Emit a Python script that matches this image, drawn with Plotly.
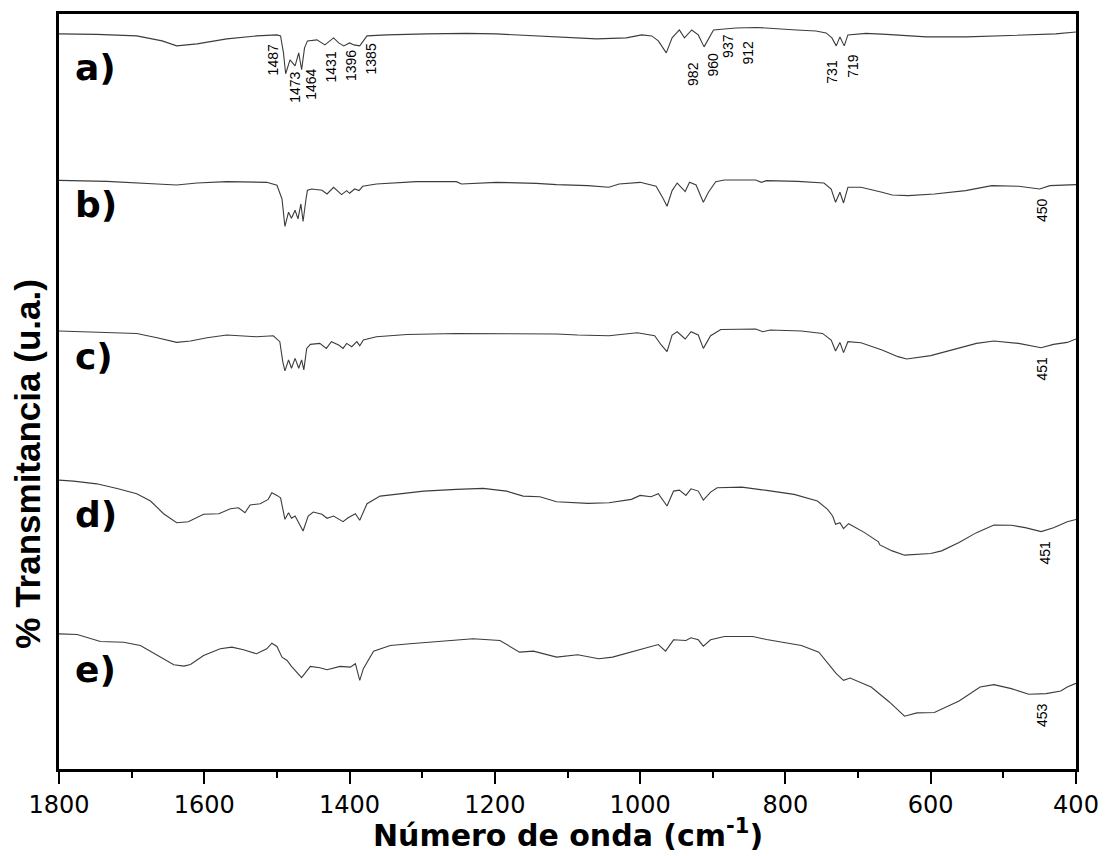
import plotly.graph_objects as go

# ---------------- data (wavenumber in cm-1, transmittance in arbitrary units) ----------------
wn_a = [1800, 1748, 1693, 1658, 1638, 1610, 1569, 1528, 1500, 1495, 1491, 1488, 1482, 1475, 1470,
        1466, 1462, 1458, 1445, 1434, 1422, 1415, 1408, 1400, 1394, 1386, 1376, 1349, 1294, 1239,
        1198, 1143, 1115, 1060, 1019, 998, 984, 975, 964, 956, 946, 939, 929, 920, 912, 899, 884,
        868, 840, 813, 785, 758, 744, 736, 730, 725, 719, 714, 689, 661, 606, 551, 510, 455, 428, 400]
t_a = [73.7, 73.65, 73.5, 73.0, 72.5, 72.7, 73.2, 73.5, 73.6, 73.5, 71.8, 69.7, 71.1, 70.5, 71.8,
       70.1, 72.3, 73.0, 73.1, 72.6, 73.3, 72.8, 72.5, 72.8, 72.6, 72.5, 73.5, 73.6, 73.7, 73.75,
       73.7, 73.5, 73.4, 73.2, 73.3, 73.6, 73.5, 73.0, 71.8, 73.3, 74.1, 73.3, 74.1, 73.6, 72.4, 74.1, 74.2,
       74.3, 74.35, 74.2, 74.1, 74.0, 73.8, 73.3, 72.5, 73.4, 72.5, 73.6, 73.75, 73.65, 73.4, 73.4, 73.5, 73.6, 73.7, 73.9]

wn_b = [1800, 1734, 1665, 1638, 1610, 1569, 1514, 1500, 1493, 1489, 1484, 1480, 1475, 1471, 1467,
        1464, 1460, 1458, 1452, 1438, 1431, 1422, 1411, 1404, 1400, 1393, 1387, 1382, 1363, 1308,
        1253, 1246, 1198, 1143, 1115, 1072, 1043, 1029, 1000, 985, 978, 968, 963, 956, 949, 938,
        932, 923, 913, 906, 896, 884, 841, 833, 826, 783, 747, 737, 731, 725, 720, 714, 696, 667,
        653, 631, 595, 552, 516, 479, 450, 436, 400]
t_b = [59.0, 58.9, 58.63, 58.53, 58.73, 58.87, 58.8, 58.5, 57.13, 54.37, 55.8, 55.2, 56.0, 55.13, 56.63,
       54.87, 57.13, 58.0, 58.13, 58.0, 57.63, 58.3, 57.57, 57.97, 57.7, 58.13, 57.97, 58.4, 58.63, 58.87,
       58.87, 58.63, 58.8, 58.7, 58.57, 58.47, 58.3, 58.63, 58.8, 58.53, 58.4, 57.13, 56.4, 57.97, 58.73, 57.87,
       58.8, 58.53, 56.8, 57.8, 58.87, 59.03, 59.03, 58.8, 58.97, 58.9, 58.73, 58.13, 56.8, 57.8, 56.73, 58.3, 58.3, 57.8,
       57.53, 57.47, 57.63, 57.97, 58.47, 58.4, 58.13, 58.47, 58.57]

wn_c = [1800, 1734, 1693, 1665, 1638, 1619, 1596, 1569, 1528, 1505, 1496, 1492, 1489, 1484, 1480,
        1475, 1470, 1466, 1463, 1459, 1454, 1441, 1432, 1425, 1415, 1409, 1404, 1397, 1390, 1386,
        1381, 1363, 1321, 1253, 1184, 1115, 1086, 1043, 1004, 980, 971, 963, 956, 949, 938, 930,
        920, 913, 903, 889, 841, 831, 821, 778, 749, 737, 731, 725, 720, 714, 696, 667, 645, 633,
        600, 571, 537, 513, 479, 448, 431, 412, 400]
t_c = [43.87, 43.7, 43.63, 43.2, 42.73, 42.87, 43.2, 43.47, 43.3, 43.4, 42.8, 40.8, 39.87, 40.97, 40.13,
       41.13, 40.13, 40.97, 39.97, 42.13, 42.53, 42.63, 42.13, 42.8, 42.47, 42.13, 42.63, 42.3, 42.8, 42.4,
       42.97, 43.3, 43.53, 43.63, 43.63, 43.57, 43.47, 43.4, 43.7, 43.4, 42.47, 41.8, 43.47, 43.8, 43.07, 43.8,
       43.47, 42.13, 43.4, 44.03, 44.07, 43.8, 43.97, 43.87, 43.63, 42.97, 41.87, 42.73, 41.7, 42.8, 42.7, 41.97, 41.3, 41.07,
       41.4, 41.97, 42.63, 42.87, 42.63, 42.2, 42.53, 42.73, 43.07]

wn_d = [1800, 1780, 1748, 1720, 1693, 1674, 1656, 1638, 1622, 1601, 1580, 1564, 1553, 1544, 1537,
        1523, 1512, 1507, 1500, 1495, 1489, 1484, 1480, 1475, 1470, 1464, 1457, 1450, 1438, 1431,
        1422, 1409, 1402, 1392, 1386, 1376, 1358, 1340, 1298, 1253, 1216, 1184, 1161, 1138, 1115,
        1072, 1043, 1012, 1000, 985, 975, 963, 954, 946, 937, 930, 920, 913, 903, 894, 860, 826,
        788, 756, 742, 735, 731, 725, 720, 713, 691, 672, 670, 653, 636, 600, 585, 561, 537, 513,
        489, 470, 448, 431, 412, 400]
t_d = [28.9, 28.8, 28.53, 28.07, 27.53, 26.8, 25.53, 24.63, 24.73, 25.47, 25.53, 26.03, 26.13, 25.63, 26.4,
       26.53, 26.97, 27.63, 27.37, 27.13, 24.97, 25.63, 25.07, 25.3, 24.63, 23.8, 25.3, 25.7, 25.47, 25.07,
       25.3, 24.73, 25.13, 25.53, 24.87, 26.53, 27.3, 27.47, 27.8, 27.97, 28.07, 27.8, 27.3, 27.23, 26.73,
       26.57, 26.63, 26.97, 27.37, 27.23, 27.53, 26.3, 27.8, 27.9, 27.37, 28.03, 27.8, 26.9, 27.7, 28.13, 28.2, 27.87,
       27.47, 26.8, 25.97, 25.3, 24.47, 24.63, 24.03, 24.53, 23.63, 22.7, 22.4, 21.8, 21.37, 21.53, 21.8, 22.63, 23.63, 24.4,
       24.37, 24.13, 23.73, 24.13, 24.73, 24.95]

wn_e = [1800, 1775, 1743, 1711, 1688, 1665, 1642, 1628, 1619, 1601, 1578, 1562, 1546, 1528, 1514,
        1507, 1500, 1493, 1486, 1480, 1466, 1454, 1441, 1431, 1413, 1399, 1392, 1386, 1381, 1367,
        1344, 1317, 1276, 1230, 1193, 1166, 1147, 1115, 1086, 1057, 1038, 1004, 975, 965, 954, 937,
        930, 920, 913, 903, 884, 845, 826, 778, 754, 730, 720, 711, 682, 657, 636, 619, 595, 561,
        532, 513, 489, 465, 441, 421, 412, 400]
t_e = [13.47, 13.4, 12.7, 12.63, 12.3, 11.3, 10.37, 10.23, 10.4, 11.3, 11.97, 12.13, 11.87, 11.47, 11.97,
       12.53, 12.2, 11.13, 10.8, 10.2, 9.07, 10.2, 10.07, 9.87, 10.2, 10.13, 10.47, 8.8, 9.97, 11.73,
       12.3, 12.47, 12.73, 12.97, 12.8, 11.63, 11.73, 11.13, 11.37, 10.97, 11.13, 11.8, 12.4, 11.73, 12.87, 12.8,
       13.07, 12.87, 12.23, 12.87, 13.2, 13.2, 12.9, 12.3, 11.63, 9.47, 8.8, 9.03, 8.13, 6.63, 5.2, 5.53, 5.57, 6.73,
       8.13, 8.37, 7.97, 7.4, 7.47, 7.73, 8.13, 8.5]

series_names = ["a)", "b)", "c)", "d)", "e)"]
series_label_y = [70.3, 56.6, 41.3, 25.5, 9.9]

# peak labels (text, wavenumber position of label, height of label centre)
peak_text = ["1487", "1473", "1464", "1431", "1396", "1385", "982", "960", "937", "912", "731", "719",
             "450", "451", "451", "453"]
peak_x = [1506, 1475, 1453, 1426, 1399, 1371, 927, 900, 879, 852, 736, 707,
          447, 447, 443, 447]
peak_y = [71.1, 68.3, 68.6, 70.4, 70.5, 71.2, 69.7, 70.6, 72.5, 71.8, 69.9, 70.5,
          56.0, 40.1, 21.6, 5.3]

x_ticks = [1800, 1600, 1400, 1200, 1000, 800, 600, 400]

# ---------------- figure ----------------
fig = go.Figure()
for wn, t in [(wn_a, t_a), (wn_b, t_b), (wn_c, t_c), (wn_d, t_d), (wn_e, t_e)]:
    fig.add_trace(go.Scatter(x=wn, y=t, mode="lines",
                             line=dict(color="#3c3c3c", width=1.1),
                             showlegend=False, hoverinfo="skip"))

for name, yy in zip(series_names, series_label_y):
    fig.add_annotation(x=1781, y=yy, xref="x", yref="y", text=name, showarrow=False,
                       xanchor="left", yanchor="middle",
                       font=dict(family="DejaVu Sans", size=36, color="black", weight="bold"))

for txt, px_, py_ in zip(peak_text, peak_x, peak_y):
    fig.add_annotation(x=px_, y=py_, xref="x", yref="y", text=txt, showarrow=False,
                       textangle=-90, xanchor="center", yanchor="middle",
                       font=dict(family="Liberation Sans, Arial", size=14, color="black"))

fig.add_annotation(x=0.5, y=-0.086, xref="paper", yref="paper",
                   text="Número de onda (cm<sup>-1</sup>)", showarrow=False,
                   xanchor="center", yanchor="middle",
                   font=dict(family="DejaVu Sans", size=30, color="black", weight="bold"))

fig.add_annotation(x=-0.031, y=0.405, xref="paper", yref="paper",
                   text="% Transmitancia (u.a.)", showarrow=False, textangle=-90,
                   xanchor="center", yanchor="middle",
                   font=dict(family="Liberation Sans, Arial", size=35, color="black", weight="bold"))

fig.update_layout(
    width=1110, height=856,
    margin=dict(l=59, r=29, t=11, b=87),
    paper_bgcolor="white", plot_bgcolor="white",
    xaxis=dict(range=[1800, 400], tickvals=x_ticks, ticks="outside", ticklen=12, tickwidth=2,
               tickcolor="black", showline=True, linewidth=2.5, linecolor="black", mirror=True,
               showgrid=False, zeroline=False,
               tickfont=dict(family="DejaVu Sans", size=24, color="black"),
               minor=dict(dtick=100, ticks="outside", ticklen=6, tickwidth=2, tickcolor="black",
                          showgrid=False)),
    yaxis=dict(range=[-0.1, 75.7], showticklabels=False, ticks="", showline=True, linewidth=2.5,
               linecolor="black", mirror=True, showgrid=False, zeroline=False),
)

fig.write_html("out.html")
